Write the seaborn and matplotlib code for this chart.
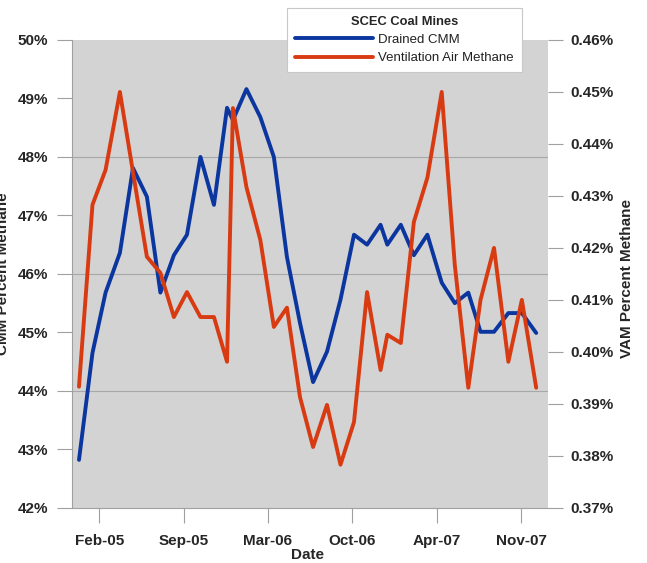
import pandas as pd
import seaborn as sns
import matplotlib.pyplot as plt
from matplotlib.ticker import FuncFormatter

# sampling dates (roughly monthly)
dates = [
    "2004-12-29", "2005-01-30", "2005-03-02", "2005-04-05", "2005-05-06", "2005-06-08",
    "2005-07-10", "2005-08-11", "2005-09-11", "2005-10-13", "2005-11-14", "2005-12-15",
    "2005-12-29", "2006-01-30", "2006-03-04", "2006-04-05", "2006-05-06", "2006-06-06",
    "2006-07-07", "2006-08-09", "2006-09-10", "2006-10-12", "2006-11-12", "2006-12-14",
    "2006-12-30", "2007-01-31", "2007-03-03", "2007-04-04", "2007-05-08", "2007-06-08",
    "2007-07-10", "2007-08-08", "2007-09-09", "2007-10-13", "2007-11-14", "2007-12-18",
]
drained_cmm = [
    42.82, 44.65, 45.68, 46.36, 47.81, 47.32, 45.68, 46.32, 46.67, 48.00, 47.18, 48.84,
    48.63, 49.16, 48.68, 48.00, 46.29, 45.16, 44.15, 44.67, 45.56, 46.67, 46.50, 46.84,
    46.50, 46.84, 46.32, 46.67, 45.85, 45.50, 45.68, 45.01, 45.01, 45.33, 45.33, 44.99,
]
vam = [
    0.3933, 0.4283, 0.4350, 0.4500, 0.4346, 0.4183, 0.4152, 0.4067, 0.4115, 0.4067, 0.4067, 0.3981,
    0.4469, 0.4317, 0.4215, 0.4048, 0.4085, 0.3913, 0.3817, 0.3898, 0.3783, 0.3865, 0.4115, 0.3965,
    0.4033, 0.4017, 0.4250, 0.4335, 0.4500, 0.4167, 0.3931, 0.4100, 0.4200, 0.3981, 0.4100, 0.3931,
]
tick_dates = ["2005-02-15", "2005-09-03", "2006-03-22", "2006-10-08", "2007-04-26", "2007-11-12"]
tick_labels = ["Feb-05", "Sep-05", "Mar-06", "Oct-06", "Apr-07", "Nov-07"]
cmm_ticks = [42, 43, 44, 45, 46, 47, 48, 49, 50]
vam_ticks = [0.37, 0.38, 0.39, 0.40, 0.41, 0.42, 0.43, 0.44, 0.45, 0.46]

df = pd.DataFrame({
    "Date": pd.to_datetime(dates),
    "Drained CMM": drained_cmm,
    "Ventilation Air Methane": vam,
})

sns.set_style("white", {"axes.facecolor": "#d3d3d3"})
plt.rcParams["font.family"] = ["Liberation Sans", "DejaVu Sans"]
plt.rcParams["font.weight"] = "bold"

blue = "#0b36a0"
red = "#d83b12"
gray = "#a0a0a0"

fig, ax = plt.subplots(figsize=(6.47, 5.63), dpi=100)
fig.subplots_adjust(left=0.111, right=0.847, top=0.929, bottom=0.098)
ax2 = ax.twinx()

sns.lineplot(data=df, x="Date", y="Drained CMM", ax=ax, color=blue, lw=2.8, legend=False)
sns.lineplot(data=df, x="Date", y="Ventilation Air Methane", ax=ax2, color=red, lw=2.8, legend=False)

# horizontal gridlines every 2%
for v in [44, 46, 48]:
    ax.axhline(v, color="#a8a8a8", lw=0.8, zorder=0)

ax.set_xlim(pd.Timestamp("2004-12-12"), pd.Timestamp("2008-01-15"))
ax.set_xticks(pd.to_datetime(tick_dates))
ax.set_xticklabels(tick_labels)

ax.set_ylim(42, 50)
ax.set_yticks(cmm_ticks)
ax.yaxis.set_major_formatter(FuncFormatter(lambda v, p: f"{v:.0f}%"))
ax2.set_ylim(0.37, 0.46)
ax2.set_yticks(vam_ticks)
ax2.yaxis.set_major_formatter(FuncFormatter(lambda v, p: f"{v:.2f}%"))

ax.tick_params(axis="x", bottom=True, length=11, width=0.8, color=gray, labelsize=11, pad=8)
ax.tick_params(axis="y", left=True, length=11, width=0.8, color=gray, labelsize=11, pad=6)
ax2.tick_params(axis="y", right=True, length=11, width=0.8, color=gray, labelsize=11, pad=5)

for s in ["top", "right"]:
    ax.spines[s].set_visible(False)
for s in ["left", "bottom"]:
    ax.spines[s].set_color(gray)
    ax.spines[s].set_linewidth(0.8)
for s in ax2.spines.values():
    s.set_visible(False)

ax.set_xlabel("Date", fontsize=11, fontweight="bold")
ax.xaxis.set_label_coords(0.494, -0.085)
ax.set_ylabel("CMM Percent Methane", fontsize=11, fontweight="bold")
ax.yaxis.set_label_coords(-0.130, 0.5)
ax2.set_ylabel("VAM Percent Methane", fontsize=11, fontweight="bold")
ax2.yaxis.set_label_coords(1.152, 0.49)

handles = [ax.get_lines()[0], ax2.get_lines()[0]]
leg = fig.legend(handles, ["Drained CMM", "Ventilation Air Methane"], title="SCEC Coal Mines",
                 loc="center", bbox_to_anchor=(0.625, 0.929), frameon=True, fancybox=False,
                 framealpha=1, facecolor="white", edgecolor="#c8c8c8",
                 handlelength=5.9, handletextpad=0.4,
                 labelspacing=0.45, borderpad=0.6,
                 prop={"weight": "normal", "size": 9.5},
                 title_fontproperties={"weight": "bold", "size": 9.3})
for t in leg.get_texts():
    t.set_color("#222222")
leg.get_frame().set_linewidth(0.8)

plt.savefig("out.png", dpi=100)
